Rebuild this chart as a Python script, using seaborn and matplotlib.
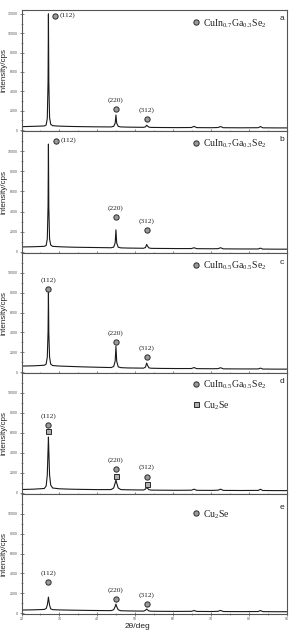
import numpy as np
import pandas as pd
import matplotlib
matplotlib.use("Agg")
import matplotlib.pyplot as plt
import matplotlib.transforms as mtrans
from matplotlib.ticker import MultipleLocator
import seaborn as sns

# 2theta grid (deg)
two_theta = [20, 23, 26.0, 26.5, 26.8, 27.0, 27.1, 27.2, 27.4, 27.7, 28.2, 30, 33, 36, 40,
             43.6, 44.3, 44.7, 44.9, 45.1, 45.5, 46.2, 48, 50, 52.2, 52.7, 53.0, 53.2, 53.6,
             54.2, 57, 61, 64.8, 65.5, 66.2, 70, 71.8, 72.5, 73.2, 78, 82.4, 83.0, 83.6, 87, 90]

counts_a = [350, 380, 420, 520, 1200, 5000, 12000, 5000, 1300, 600, 450, 400, 370, 350, 330,
            320, 380, 700, 1550, 700, 380, 320, 300, 290, 280, 330, 500, 420, 300,
            270, 260, 250, 260, 380, 250, 240, 260, 360, 240, 230, 240, 360, 230, 220, 220]
counts_b = [500, 520, 560, 650, 1300, 4500, 10700, 4500, 1300, 700, 560, 520, 480, 460, 440,
            420, 480, 900, 2200, 900, 470, 410, 390, 380, 370, 450, 750, 600, 400,
            360, 350, 340, 340, 420, 330, 320, 330, 420, 310, 300, 300, 380, 290, 280, 280]
counts_c = [600, 620, 680, 800, 1500, 4000, 8000, 4000, 1500, 800, 650, 600, 560, 520, 480,
            450, 550, 1100, 2600, 1100, 520, 440, 410, 400, 390, 500, 900, 700, 420,
            380, 360, 350, 350, 450, 340, 330, 340, 430, 320, 310, 310, 390, 300, 290, 290]
counts_d = [350, 380, 450, 700, 1800, 4300, 5600, 4300, 1800, 800, 500, 420, 380, 360, 340,
            340, 500, 1000, 1300, 1000, 500, 340, 320, 310, 300, 400, 550, 480, 330,
            290, 280, 270, 280, 380, 270, 260, 280, 380, 260, 250, 260, 370, 250, 240, 240]
counts_e = [300, 320, 360, 450, 800, 1300, 1600, 1300, 800, 420, 340, 310, 290, 270, 250,
            240, 330, 650, 900, 650, 320, 230, 210, 200, 190, 280, 400, 330, 210,
            180, 170, 160, 170, 250, 160, 150, 170, 260, 150, 140, 150, 250, 140, 130, 130]

panel_counts = [counts_a, counts_b, counts_c, counts_d, counts_e]
panel_letters = ["a", "b", "c", "d", "e"]
phase_labels = [
    [r"CuIn$_{0.7}$Ga$_{0.3}$Se$_2$"],
    [r"CuIn$_{0.7}$Ga$_{0.3}$Se$_2$"],
    [r"CuIn$_{0.5}$Ga$_{0.5}$Se$_2$"],
    [r"CuIn$_{0.5}$Ga$_{0.5}$Se$_2$", r"Cu$_2$Se"],
    [r"Cu$_2$Se"],
]
peak_hkl = ["(112)", "(220)", "(312)"]
peak_pos = [27.1, 44.9, 53.0]
y_ticks_top = [0, 2000, 4000, 6000, 8000, 10000, 12000]
y_ticks = [0, 2000, 4000, 6000, 8000, 10000]
x_ticks = [20, 30, 40, 50, 60, 70, 80, 90]

sns.set_style("ticks")
plt.rcParams["font.family"] = ["Liberation Sans", "DejaVu Sans"]
plt.rcParams["mathtext.fontset"] = "custom"
plt.rcParams["mathtext.rm"] = "Liberation Serif"
plt.rcParams["mathtext.it"] = "Liberation Serif"

W, H = 289, 637
fig = plt.figure(figsize=(W / 100, H / 100), dpi=100)

# panel extents in pixels (top, bottom)
extents = [(10, 131), (131, 253), (253, 373), (373, 494), (494, 614)]
left, right = 21.5, 287
# marker gap above peak tip (px) for circle / square, per panel
circle_gap = [[-2, 6, 6], [3, 13, 14], [4, 4, 6], [12, 11, 11], [15, 5, 5]]
square_gap = [None, None, None, [6, 4, 4], None]
legend_y = [0.89, 0.893, 0.89, 0.90, 0.83]
letter_y = [0.93, 0.93, 0.92, 0.93, 0.89]

serif = ["Liberation Serif", "DejaVu Serif"]
circ = dict(marker="o", ms=3.8, mfc="#9a9a9a", mec="#2a2a2a", mew=0.7, ls="none", clip_on=False)
sq = dict(marker="s", ms=3.6, mfc="#b0b0b0", mec="#2a2a2a", mew=0.7, ls="none", clip_on=False)

for i, counts in enumerate(panel_counts):
    top, bot = extents[i]
    ax = fig.add_axes([left / W, 1 - bot / H, (right - left) / W, (bot - top) / H])
    df = pd.DataFrame({"two_theta": two_theta, "counts": counts})
    sns.lineplot(data=df, x="two_theta", y="counts", ax=ax, color="#1a1a1a", lw=0.8)
    ax.set_xlim(20, 90)
    ax.set_ylim(-100, 12400 if i == 0 else 12000)
    ax.set_yticks(y_ticks_top if i == 0 else y_ticks)
    ax.yaxis.set_minor_locator(MultipleLocator(1000))
    ax.set_xticks(x_ticks)
    ax.xaxis.set_minor_locator(MultipleLocator(5))
    ax.tick_params(axis="both", which="major", direction="inout", length=3, width=0.5,
                   labelsize=2.5, colors="#555555", pad=1)
    ax.tick_params(axis="both", which="minor", direction="inout", length=1.8, width=0.4,
                   colors="#555555")
    if i < 4:
        ax.tick_params(axis="x", labelbottom=False)
    ax.set_xlabel("")
    ax.set_ylabel("intensity/cps", fontsize=5.8, color="#222222")
    ax.yaxis.set_label_coords(-0.053, 0.5)
    for s in ax.spines.values():
        s.set_color("#555555")
        s.set_linewidth(0.8)

    # peak markers and hkl labels
    for k, (x, hkl) in enumerate(zip(peak_pos, peak_hkl)):
        y = counts[two_theta.index(x)]
        gap = circle_gap[i][k]
        if k == 0 and i < 2:
            dx = 6.5 if i == 0 else 7.5
            tr = mtrans.offset_copy(ax.transData, fig=fig, x=dx, y=gap, units="dots")
            ax.plot([x], [y], transform=tr, **circ)
            trt = mtrans.offset_copy(ax.transData, fig=fig, x=dx + 4.5, y=gap + 1, units="dots")
            ax.text(x, y, hkl, transform=trt, ha="left", va="center", fontsize=5.3,
                    family=serif, color="#222222")
            continue
        tr = mtrans.offset_copy(ax.transData, fig=fig, x=0, y=gap, units="dots")
        ax.plot([x], [y], transform=tr, **circ)
        if square_gap[i] is not None:
            trs = mtrans.offset_copy(ax.transData, fig=fig, x=0, y=square_gap[i][k], units="dots")
            ax.plot([x], [y], transform=trs, **sq)
        trt = mtrans.offset_copy(ax.transData, fig=fig, x=0, y=gap + 9, units="dots")
        ax.text(x, y, hkl, transform=trt, ha="center", va="center", fontsize=5.3,
                family=serif, color="#222222")

    # phase legend
    for j, lab in enumerate(phase_labels[i]):
        ly = legend_y[i] - j * 0.17
        ax.plot([0.657], [ly + 0.01], transform=ax.transAxes, **(circ if (j == 0) else sq))
        ax.text(0.684, ly, lab, transform=ax.transAxes, ha="left", va="center",
                fontsize=7, family=serif, color="#222222")
    ax.text(0.99, letter_y[i], panel_letters[i], transform=ax.transAxes, ha="right",
            va="center", fontsize=6, color="#222222")

fig.text(137 / W, 1 - 626 / H, "2θ/deg", ha="center", va="center", fontsize=6, color="#222222")
fig.savefig("out.png", dpi=100)
